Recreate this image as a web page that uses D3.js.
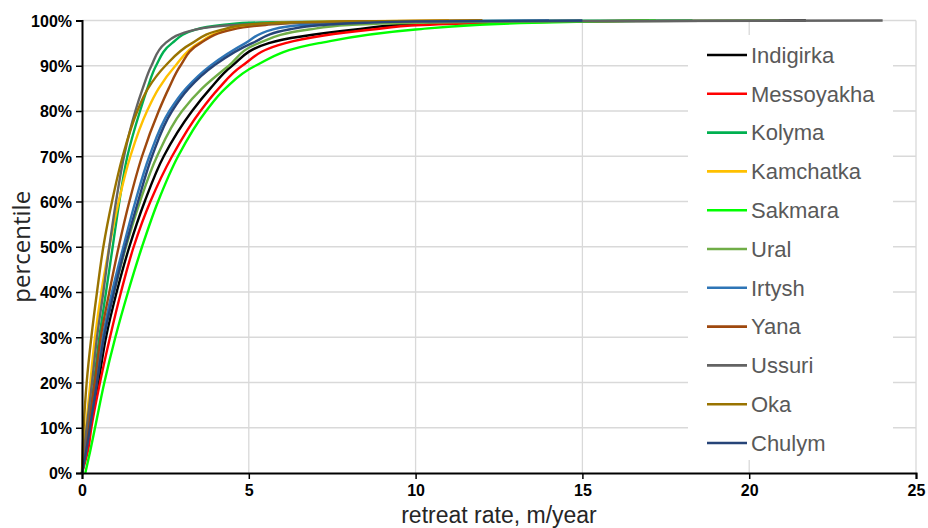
<!DOCTYPE html>
<html>
<head>
<meta charset="utf-8">
<script src="https://cdn.jsdelivr.net/npm/d3@7/dist/d3.min.js"></script>
<style>
  html, body { margin: 0; padding: 0; background: #fff; }
  svg { display: block; }
</style>
</head>
<body>
<svg id="chart" width="928" height="528"></svg>
<script>
// Percentile levels (y) and, for each river, the retreat rate (m/year) at that percentile
const percentiles = [0, 5, 10, 20, 30, 40, 50, 60, 70, 80, 85, 90, 95, 98, 99, 99.5, 99.8, 100];

const seriesNames = ["Indigirka", "Messoyakha", "Kolyma", "Kamchatka", "Sakmara", "Ural", "Irtysh", "Yana", "Ussuri", "Oka", "Chulym"];
const seriesColors = ["#000000", "#ff0000", "#00b050", "#ffc000", "#00ff00", "#70ad47", "#2e75b6", "#9e480e", "#636363", "#997300", "#264478"];

const indigirka  = [0, 0.14, 0.24, 0.49, 0.72, 1.04, 1.42, 1.88, 2.45, 3.3, 3.85, 4.5, 5.6, 8.2, 9.6, 11.5, 15, 21.7];
const messoyakha = [0, 0.18, 0.28, 0.54, 0.84, 1.17, 1.55, 2.05, 2.7, 3.55, 4.1, 4.8, 6.1, 8.7, 10.2, 12.5, 15, 17];
const kolyma     = [0, 0.1, 0.2, 0.36, 0.52, 0.72, 0.92, 1.12, 1.36, 1.74, 1.96, 2.22, 2.7, 3.4, 4.2, 5, 8, 18.3];
const kamchatka  = [0, 0.05, 0.12, 0.25, 0.39, 0.58, 0.82, 1.1, 1.45, 1.95, 2.3, 2.8, 3.5, 4.4, 5.2, 6, 8, 11];
const sakmara    = [0.1, 0.25, 0.39, 0.67, 1.0, 1.38, 1.8, 2.28, 2.88, 3.72, 4.3, 5.2, 7.1, 10, 11.8, 13.5, 15.5, 17.2];
const ural       = [0, 0.12, 0.22, 0.44, 0.65, 0.96, 1.32, 1.74, 2.25, 3.0, 3.6, 4.4, 5.3, 6.8, 8, 10, 13, 20.9];
const irtysh     = [0, 0.12, 0.22, 0.42, 0.62, 0.9, 1.24, 1.6, 2.02, 2.62, 3.12, 3.85, 4.9, 5.7, 6.6, 8, 10, 14];
const yana       = [0, 0.1, 0.18, 0.38, 0.56, 0.82, 1.1, 1.42, 1.8, 2.3, 2.6, 2.95, 3.55, 4.5, 5.5, 6.5, 8.5, 12];
const ussuri     = [0, 0.06, 0.14, 0.3, 0.45, 0.64, 0.82, 1.02, 1.26, 1.6, 1.82, 2.08, 2.5, 3.4, 4.6, 6.5, 10, 24];
const oka        = [0, 0.02, 0.05, 0.14, 0.28, 0.45, 0.64, 0.9, 1.22, 1.66, 1.98, 2.5, 3.3, 4.2, 4.9, 6, 8, 12];
const chulym     = [0, 0.13, 0.24, 0.45, 0.66, 0.96, 1.3, 1.68, 2.1, 2.7, 3.2, 3.95, 5.1, 6.2, 7.2, 8.5, 10, 15];

const seriesValues = [indigirka, messoyakha, kolyma, kamchatka, sakmara, ural, irtysh, yana, ussuri, oka, chulym];

const xTicks = [0, 5, 10, 15, 20, 25];
const yTicks = [0, 10, 20, 30, 40, 50, 60, 70, 80, 90, 100];

const xTitle = "retreat rate, m/year";
const yTitle = "percentile";

const svg = d3.select("#chart");
const margin = {left: 82, right: 12, top: 20.5, bottom: 55};
const W = 928, H = 528;

const x = d3.scaleLinear().domain([0, 25]).range([margin.left, W - margin.right]);
const y = d3.scaleLinear().domain([0, 100]).range([H - margin.bottom, margin.top]);

// gridlines
const grid = svg.append("g");
grid.selectAll("line.h").data(yTicks.filter(d => d > 0)).join("line")
  .attr("x1", x(0)).attr("x2", x(25))
  .attr("y1", d => y(d)).attr("y2", d => y(d))
  .attr("stroke", "#d9d9d9").attr("stroke-width", 1.3);
grid.selectAll("line.v").data(xTicks.filter(d => d > 0)).join("line")
  .attr("x1", d => x(d)).attr("x2", d => x(d))
  .attr("y1", y(0)).attr("y2", y(100))
  .attr("stroke", "#d9d9d9").attr("stroke-width", 1.3);

// lines
const line = d3.line()
  .x(d => x(d[0]))
  .y(d => y(d[1]))
  .curve(d3.curveMonotoneY);

const plot = svg.append("g");
seriesNames.forEach((name, i) => {
  const pts = seriesValues[i].map((v, j) => [v, percentiles[j]]);
  plot.append("path")
    .datum(pts)
    .attr("d", line)
    .attr("fill", "none")
    .attr("stroke", seriesColors[i])
    .attr("stroke-width", 2.4)
    .attr("stroke-linejoin", "round");
});

// axes
const xAxis = d3.axisBottom(x).tickValues(xTicks).tickSize(6).tickPadding(6).tickFormat(d3.format("d"));
const yAxis = d3.axisLeft(y).tickValues(yTicks).tickSize(6).tickPadding(4).tickFormat(d => d + "%");

const gx = svg.append("g").attr("transform", `translate(0,${y(0)})`).call(xAxis);
const gy = svg.append("g").attr("transform", `translate(${x(0)},0)`).call(yAxis);
[gx, gy].forEach(g => {
  g.select(".domain").attr("stroke", "#000").attr("stroke-width", 2);
  g.selectAll(".tick line").attr("stroke", "#000").attr("stroke-width", 1.5);
  g.selectAll(".tick text")
    .attr("fill", "#000")
    .style("font-family", "'Liberation Sans', Arial, sans-serif")
    .style("font-weight", "bold")
    .style("font-size", "16px");
});
gy.selectAll(".tick text").attr("dy", "0.36em");

// axis titles
svg.append("text")
  .attr("x", x(12.5)).attr("y", 523)
  .attr("text-anchor", "middle")
  .style("font-family", "'Liberation Sans', Arial, sans-serif")
  .style("font-size", "23px")
  .attr("fill", "#262626")
  .text(xTitle);

svg.append("text")
  .attr("transform", `translate(30,${y(50)}) rotate(-90)`)
  .attr("text-anchor", "middle")
  .style("font-family", "'Open Sans', 'Liberation Sans', sans-serif")
  .style("font-size", "24px")
  .attr("fill", "#262626")
  .text(yTitle);

// legend
const legend = svg.append("g");
legend.append("rect")
  .attr("x", 688).attr("y", 35).attr("width", 205).attr("height", 425)
  .attr("fill", "#fff");
const ly0 = 55, lstep = 38.8;
seriesNames.forEach((name, i) => {
  const yy = ly0 + i * lstep;
  legend.append("line")
    .attr("x1", 707).attr("x2", 747)
    .attr("y1", yy).attr("y2", yy)
    .attr("stroke", seriesColors[i]).attr("stroke-width", 2.6);
  legend.append("text")
    .attr("x", 751).attr("y", yy).attr("dy", "0.35em")
    .style("font-family", "'Liberation Sans', Arial, sans-serif")
    .style("font-size", "22px")
    .attr("fill", "#595959")
    .text(name);
});
</script>
</body>
</html>
